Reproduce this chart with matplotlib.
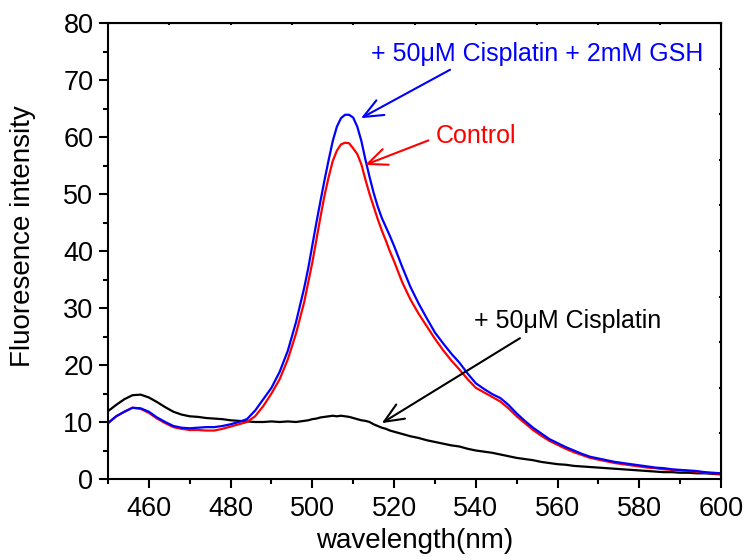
import numpy as np
import matplotlib
matplotlib.use("Agg")
import matplotlib.pyplot as plt
from matplotlib.ticker import MultipleLocator

wavelength = [450, 452, 454, 456, 458, 460, 462, 464, 466, 468,
              470, 472, 474, 476, 478, 480, 482, 484, 486, 488,
              490, 492, 494, 496,
              498, 499, 500, 501, 502, 503, 504, 505, 506, 507,
              508, 509, 510, 511, 512, 513, 514, 515, 516, 517,
              518, 519, 520,
              522, 524, 526, 528,
              530, 532, 534, 536, 538, 540, 542, 544, 546, 548,
              550, 552, 554, 556, 558, 560, 562, 564, 566, 568,
              570, 572, 574, 576, 578, 580, 582, 584, 586, 588,
              590, 592, 594, 596, 598, 600]

gsh = [9.8, 11.0, 11.8, 12.5, 12.4, 11.8, 10.8, 10.0, 9.3, 9.0,
       8.9, 9.0, 9.1, 9.1, 9.3, 9.6, 10.0, 10.5, 12.0, 14.0,
       16.0, 18.8, 22.5, 27.5,
       33.5, 37.0, 41.0, 45.0, 48.8, 52.5, 56.0, 59.3, 61.8, 63.3,
       63.9, 63.9, 63.4, 61.8, 59.3, 56.0, 53.0, 50.2, 47.8, 45.8,
       44.2, 42.6, 40.9,
       37.2, 33.7, 30.8, 28.2,
       25.7, 23.8, 22.0, 20.4, 18.5, 16.8, 15.8, 14.9, 14.2, 13.0,
       11.5, 10.2, 9.0, 8.0, 7.0, 6.3, 5.6, 5.0, 4.4, 3.9,
       3.6, 3.3, 3.0, 2.8, 2.6, 2.4, 2.2, 2.0, 1.9, 1.7,
       1.6, 1.5, 1.4, 1.2, 1.1, 1.0]

control = [9.8, 11.0, 11.8, 12.5, 12.3, 11.6, 10.6, 9.8, 9.1, 8.8,
           8.6, 8.6, 8.5, 8.5, 8.8, 9.2, 9.6, 10.0, 11.0, 12.8,
           15.0, 17.5, 21.0, 25.5,
           31.0, 34.5, 38.0, 42.0, 46.0, 49.8, 53.0, 55.8, 57.6, 58.7,
           59.0, 58.9, 58.0, 57.0, 55.2, 52.5, 50.0, 47.8, 45.6, 43.6,
           41.8, 39.9, 38.2,
           34.5, 31.5, 29.0, 26.8,
           24.6, 22.6, 20.8, 19.2, 17.5, 16.0, 15.2, 14.4, 13.6, 12.4,
           11.0, 9.8, 8.6, 7.6, 6.7, 6.0, 5.3, 4.7, 4.2, 3.7,
           3.4, 3.1, 2.8, 2.6, 2.4, 2.2, 2.0, 1.9, 1.7, 1.6,
           1.5, 1.4, 1.3, 1.1, 1.0, 0.9]

cisplatin = [11.9, 13.0, 14.0, 14.7, 14.8, 14.3, 13.5, 12.6, 11.8, 11.3,
             11.0, 10.9, 10.7, 10.6, 10.5, 10.3, 10.2, 10.1, 10.0, 10.0,
             10.1, 10.0, 10.1, 10.0,
             10.2, 10.3, 10.5, 10.6, 10.8, 10.9, 11.0, 11.1, 11.0, 11.1,
             11.0, 10.9, 10.7, 10.5, 10.3, 10.2, 10.0, 9.6, 9.3, 9.0,
             8.8, 8.5, 8.3,
             7.9, 7.5, 7.2, 6.8,
             6.5, 6.2, 5.9, 5.7, 5.3, 5.0, 4.8, 4.6, 4.3, 4.0,
             3.7, 3.5, 3.3, 3.0, 2.8, 2.6, 2.5, 2.3, 2.2, 2.1,
             2.0, 1.9, 1.8, 1.7, 1.6, 1.5, 1.4, 1.3, 1.2, 1.2,
             1.1, 1.1, 1.0, 1.0, 0.9, 0.8]

label_gsh = "+ 50\u03bcM Cisplatin + 2mM GSH"
label_control = "Control"
label_cis = "+ 50\u03bcM Cisplatin"

plt.rcParams['font.family'] = ['Liberation Sans', 'DejaVu Sans']

fig = plt.figure(figsize=(7.48, 5.6), dpi=100)
ax = fig.add_axes([108/748, 81/560, (721-108)/748, (479-23)/560])

ax.plot(wavelength, cisplatin, color='black', lw=1.6)
ax.plot(wavelength, control, color='#ff0000', lw=1.6)
ax.plot(wavelength, gsh, color='#0000ff', lw=1.6)

ax.set_xlim(450, 600)
ax.set_ylim(0, 80)
ax.xaxis.set_major_locator(MultipleLocator(20))
ax.xaxis.set_minor_locator(MultipleLocator(10))
ax.yaxis.set_major_locator(MultipleLocator(10))
ax.yaxis.set_minor_locator(MultipleLocator(5))

for s in ax.spines.values():
    s.set_linewidth(1.5)
ax.tick_params(which='major', direction='out', length=6.5, width=1.5, labelsize=19.5, pad=4)
ax.tick_params(which='minor', direction='out', length=3.5, width=1.5)
ax.tick_params(axis='x', which='major', pad=6)

top = ax.secondary_xaxis('top')
top.set_xticks(np.arange(450, 601, 15))
top.tick_params(direction='in', length=1.5, width=1.5, labeltop=False)
top.xaxis.set_minor_locator(plt.NullLocator())
right = ax.secondary_yaxis('right')
right.set_yticks(np.arange(0, 81, 8))
right.tick_params(direction='in', length=1.5, width=1.5, labelright=False)
right.yaxis.set_minor_locator(plt.NullLocator())

ax.set_xlabel('wavelength(nm)', fontsize=20, labelpad=4)
ax.set_ylabel('Fluoresence intensity', fontsize=20)
ax.yaxis.set_label_coords(-0.118, 0.533)

ap = dict(arrowstyle='->,head_length=0.7,head_width=0.3', lw=1.5, shrinkA=0, shrinkB=0, mutation_scale=20)
ax.annotate('', xy=(511.9, 63.3), xytext=(533.7, 71.8), arrowprops=dict(ap, color='#0000ff'))
ax.annotate('', xy=(512.9, 55.1), xytext=(528.4, 59.4), arrowprops=dict(ap, color='#ff0000'))
ax.annotate('', xy=(517.0, 9.8), xytext=(550.8, 24.7), arrowprops=dict(ap, color='black'))

ax.text(514.3, 73.4, label_gsh, color='#0000ff', fontsize=18, ha='left', va='baseline')
ax.text(530.2, 59.0, label_control, color='#ff0000', fontsize=18, ha='left', va='baseline')
ax.text(539.5, 26.5, label_cis, color='black', fontsize=18, ha='left', va='baseline')

fig.savefig('out.png', dpi=100)
